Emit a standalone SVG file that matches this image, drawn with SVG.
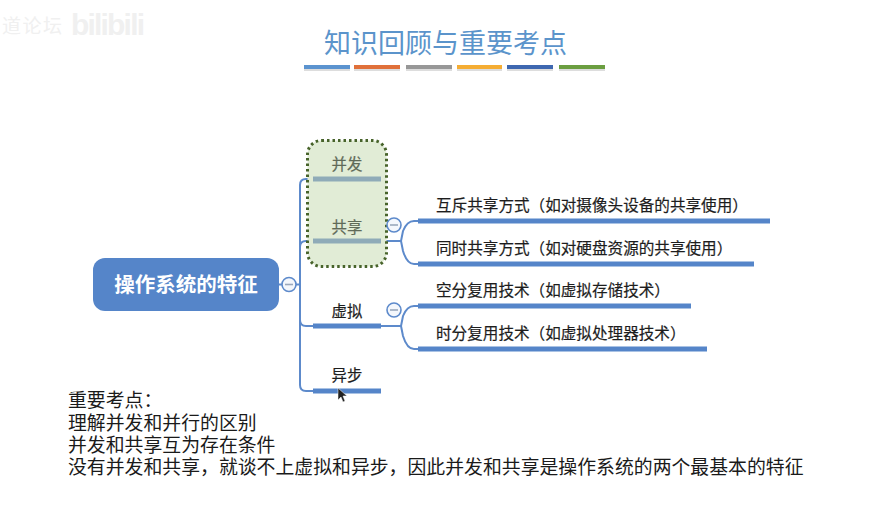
<svg xmlns="http://www.w3.org/2000/svg" width="871" height="513" viewBox="0 0 871 513">
<style>
text{font-family:"Noto Sans CJK SC","Noto Sans",sans-serif}
.title{font-size:27px;fill:#5b94cb}
.wm{font-size:19px;fill:#f0f0f0}
.ul{fill:#5585c9}
.ulg{fill:#8fabb8}
.lb{font-size:15.4px;fill:#1d1d1d;text-anchor:middle;stroke:#1d1d1d;stroke-width:.2}
.leaf{font-size:15.6px;fill:#1d1d1d;stroke:#1d1d1d;stroke-width:.2}
.dim{fill:#5f6a58;stroke:#5f6a58}
.note{font-size:18.87px;fill:#1a1a1a}
.con{fill:none;stroke:#5d8acb;stroke-width:2}
.tog{fill:#f4f7fc;stroke:#5d8acb;stroke-width:1.6}
.tm{stroke:#9aa8bb;stroke-width:1.6}
.sh{fill:#bbb;opacity:.5}
</style>
<g id="watermark">
<text class="wm" x="2" y="33" textLength="60">道论坛</text>
<text x="71" y="35" style="font-family:'Liberation Sans',sans-serif;font-size:30px;font-weight:bold;fill:#f0f0f0" textLength="74">bilibili</text>
</g>
<g id="title">
<text class="title" x="324" y="53">知识回顾与重要考点</text>
<rect class="sh" x="304" y="66" width="46" height="5"/><rect x="304" y="65" width="46" height="4" fill="#5b93cf"/>
<rect class="sh" x="354" y="66" width="46" height="5"/><rect x="354" y="65" width="46" height="4" fill="#e0703a"/>
<rect class="sh" x="406" y="66" width="46" height="5"/><rect x="406" y="65" width="46" height="4" fill="#979797"/>
<rect class="sh" x="457" y="66" width="45" height="5"/><rect x="457" y="65" width="45" height="4" fill="#f5ad33"/>
<rect class="sh" x="507" y="66" width="46" height="5"/><rect x="507" y="65" width="46" height="4" fill="#3e67b0"/>
<rect class="sh" x="559" y="66" width="46" height="5"/><rect x="559" y="65" width="46" height="4" fill="#6b9e40"/>
</g>
<g id="connectors">
<path class="con" d="M279 284.500H282M296 284.500H300"/>
<path class="con" d="M313 179H306Q300 179 300 185V385Q300 391 306 391H313"/>
<path class="con" d="M300 247Q300 241 306 241H313"/>
<path class="con" d="M300 320Q300 326 306 326H313"/>
<path class="con" d="M381 241H401"/>
<path class="con" d="M418 221H414Q407 221 403 231L401 241L403 251Q407 264 414 264H418"/>
<path class="con" d="M381 326H401"/>
<path class="con" d="M418 306H414Q407 306 403 316L401 326L403 336Q407 349 414 349H418"/>
</g>
<g id="highlight">
<rect x="307.500" y="140.500" width="79" height="126" rx="14" fill="#e1ecd6" stroke="#47632a" stroke-width="3" stroke-dasharray="2.500 3"/>
</g>
<g id="root">
<rect x="93" y="258" width="186" height="53" rx="12" fill="#5585c9"/>
<text x="186" y="291.500" text-anchor="middle" font-weight="700" font-size="20.500" fill="#fff">操作系统的特征</text>
<circle class="tog" cx="289" cy="284.500" r="7"/><path class="tm" d="M285 284.500H293"/>
</g>
<g id="node-concurrency">
<text class="lb dim" x="347" y="170">并发</text>
<rect class="ulg" x="313" y="176.500" width="68" height="5"/>
</g>
<g id="node-sharing">
<text class="lb dim" x="347" y="233">共享</text>
<rect class="ulg" x="313" y="238.500" width="68" height="5"/>
<circle class="tog" cx="394" cy="225" r="7"/><path class="tm" d="M390 225H398"/>
</g>
<g id="node-virtual">
<text class="lb" x="347" y="317">虚拟</text>
<rect class="ul" x="313" y="323.500" width="68" height="5"/>
<circle class="tog" cx="394" cy="310" r="7"/><path class="tm" d="M390 310H398"/>
</g>
<g id="node-async">
<text class="lb" x="347" y="381">异步</text>
<rect class="ul" x="313" y="388.500" width="68" height="5"/>
</g>
<g id="leaf-1">
<text class="leaf" x="436" y="211">互斥共享方式（如对摄像头设备的共享使用）</text>
<rect class="ul" x="418" y="218.500" width="352" height="5"/>
</g>
<g id="leaf-2">
<text class="leaf" x="436" y="254">同时共享方式（如对硬盘资源的共享使用）</text>
<rect class="ul" x="418" y="261.500" width="336" height="5"/>
</g>
<g id="leaf-3">
<text class="leaf" x="436" y="296">空分复用技术（如虚拟存储技术）</text>
<rect class="ul" x="418" y="303.500" width="273" height="5"/>
</g>
<g id="leaf-4">
<text class="leaf" x="436" y="339">时分复用技术（如虚拟处理器技术）</text>
<rect class="ul" x="418" y="346.500" width="289" height="5"/>
</g>
<path id="cursor" d="M338 388V400L341 397L343 402L345 401L343 396H347Z" fill="#222" stroke="#fff" stroke-width=".5"/>
<g id="notes">
<text class="note"><tspan x="68" y="407">重要考点：</tspan><tspan x="68" y="429.500">理解并发和并行的区别</tspan><tspan x="68" y="452">并发和共享互为存在条件</tspan><tspan x="68" y="474">没有并发和共享，就谈不上虚拟和异步，因此并发和共享是操作系统的两个最基本的特征</tspan></text>
</g>
</svg>
